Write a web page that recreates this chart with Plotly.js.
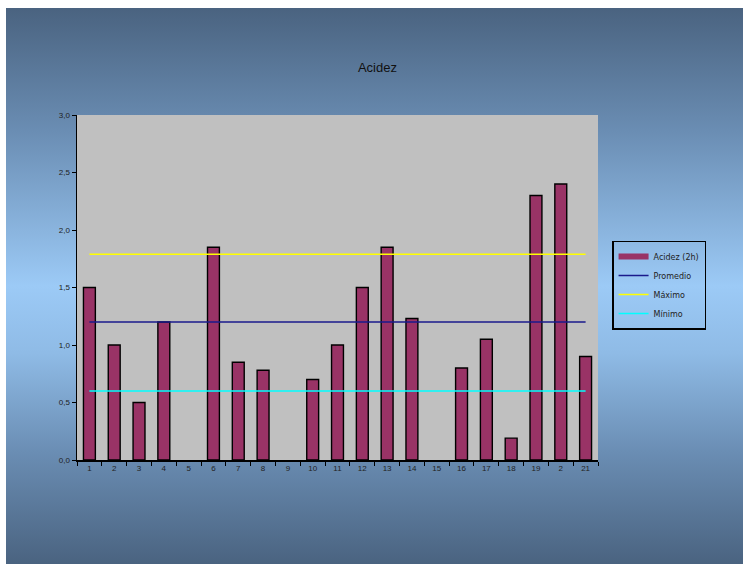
<!DOCTYPE html>
<html>
<head>
<meta charset="utf-8">
<script src="https://cdn.plot.ly/plotly-3.0.1.min.js"></script>
<style>
  html, body { margin: 0; padding: 0; background: #ffffff; }
  #wrap { position: absolute; left: 6px; top: 8px; width: 737px; height: 556px;
    background: linear-gradient(to bottom, #4a6380 0%, #6a8db3 22%, #9ccaf6 50%, #8fbbe6 62%, #6a8db3 80%, #4a6380 100%); }
  #chart { position: absolute; left: 0; top: 0; width: 743px; height: 564px; }
</style>
</head>
<body>
<div id="wrap"></div>
<div id="chart"></div>
<script>
const categories = ["1","2","3","4","5","6","7","8","9","10","11","12","13","14","15","16","17","18","19","20","21"];
const tickLabels = ["1","2","3","4","5","6","7","8","9","10","11","12","13","14","15","16","17","18","19","2","21"];
const acidez2h = [1.5, 1.0, 0.5, 1.2, null, 1.85, 0.85, 0.78, null, 0.7, 1.0, 1.5, 1.85, 1.23, null, 0.8, 1.05, 0.19, 2.3, 2.4, 0.9];
const promedio = 1.2;
const maximo = 1.79;
const minimo = 0.6;

const ends = [categories[0], categories[categories.length - 1]];

const traces = [
  { type: "bar", name: "Acidez (2h)", x: categories, y: acidez2h, showlegend: false,
    marker: { color: "#993366", line: { color: "#000000", width: 1.4 } } },
  { type: "scatter", mode: "lines", name: "Acidez (2h)", x: [null], y: [null],
    line: { color: "#993366", width: 6 } },
  { type: "scatter", mode: "lines", name: "Promedio", x: ends, y: [promedio, promedio],
    line: { color: "#1a1a8c", width: 1.5 } },
  { type: "scatter", mode: "lines", name: "Máximo", x: ends, y: [maximo, maximo],
    line: { color: "#ffff00", width: 1.5 } },
  { type: "scatter", mode: "lines", name: "Mínimo", x: ends, y: [minimo, minimo],
    line: { color: "#00ffff", width: 1.5 } }
];

const layout = {
  width: 743, height: 564,
  paper_bgcolor: "rgba(0,0,0,0)",
  plot_bgcolor: "#c0c0c0",
  margin: { l: 77, r: 145, t: 115, b: 104 },
  showlegend: true,
  title: { text: "Acidez", x: 0.508, xanchor: "center", y: 0.88, yanchor: "middle",
    font: { family: "Liberation Sans, Arial, sans-serif", size: 13, color: "#111111" } },
  bargap: 0.52,
  font: { family: "Liberation Sans, Arial, sans-serif", size: 8, color: "#222222" },
  xaxis: {
    type: "category",
    tickmode: "array", tickvals: categories, ticktext: tickLabels,
    tickson: "boundaries",
    ticks: "outside", ticklen: 4, tickcolor: "#000000", tickwidth: 1,
    showline: true, linecolor: "#000000", linewidth: 1.5,
    showgrid: false, zeroline: false,
    tickfont: { size: 8, color: "#222222" },
    range: [-0.5, 20.5], fixedrange: true
  },
  yaxis: {
    range: [0, 3], dtick: 0.5, tickformat: ".1f",
    ticks: "outside", ticklen: 4, tickcolor: "#000000",
    showline: true, linecolor: "#000000", linewidth: 1.5,
    showgrid: false, zeroline: false,
    tickfont: { size: 8, color: "#222222" }
  },
  separators: ",.",
  legend: {
    x: 1.027, xanchor: "left", y: 0.507, yanchor: "middle",
    bgcolor: "rgba(0,0,0,0)", bordercolor: "#000000", borderwidth: 1.5,
    font: { family: "DejaVu Sans, sans-serif", size: 8, color: "#222222" },
    itemwidth: 30, tracegroupgap: 0
  }
};

Plotly.newPlot("chart", traces, layout, { displayModeBar: false, staticPlot: true });
</script>
</body>
</html>
